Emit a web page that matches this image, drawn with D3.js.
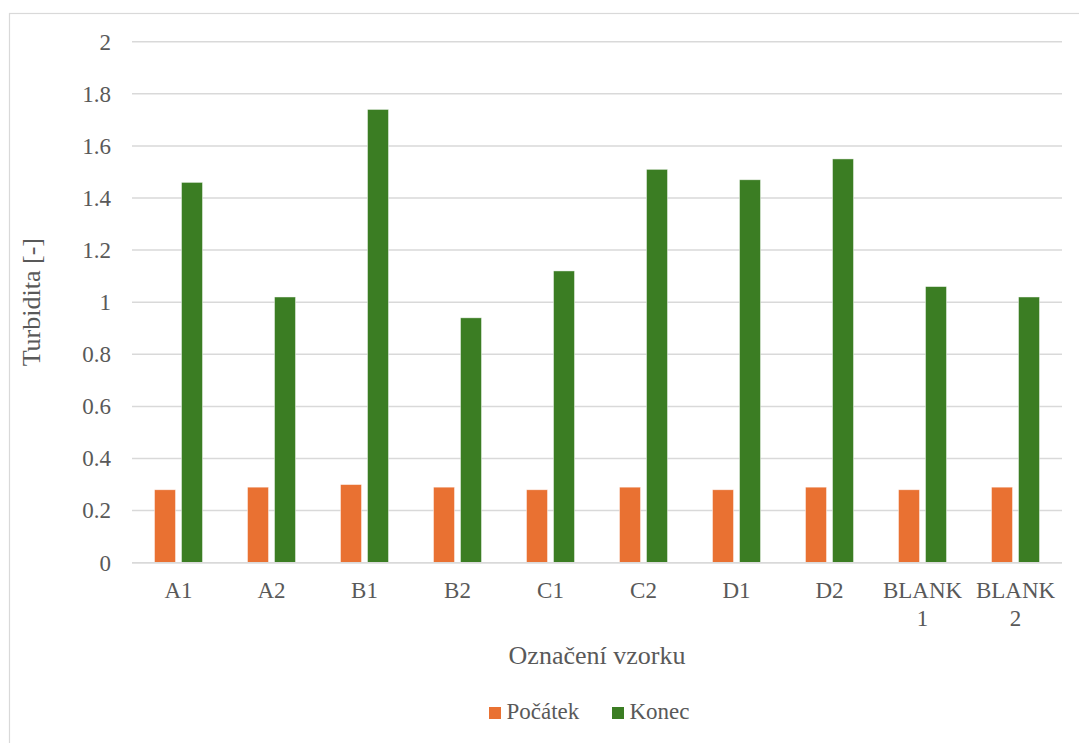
<!DOCTYPE html>
<html><head><meta charset="utf-8">
<script src="https://cdn.jsdelivr.net/npm/d3@7"></script>
<style>html,body{margin:0;padding:0;background:#fff;}svg{display:block;} svg text{font-family:"Liberation Serif","Times New Roman",serif !important;}</style>
</head><body>
<script>
const categories = ["A1","A2","B1","B2","C1","C2","D1","D2","BLANK 1","BLANK 2"];
const pocatek = [0.28,0.29,0.30,0.29,0.28,0.29,0.28,0.29,0.28,0.29];
const konec = [1.46,1.02,1.74,0.94,1.12,1.51,1.47,1.55,1.06,1.02];
const seriesNames = ["Počátek","Konec"];
const seriesColors = ["#E97132","#3B7D23"];
const yTicks = [0,0.2,0.4,0.6,0.8,1,1.2,1.4,1.6,1.8,2];

const W=1079,H=743;
const svg=d3.select("body").append("svg").attr("width",W).attr("height",H);
const font="Liberation Serif";
const txt="#595959";

svg.append("rect").attr("x",9.5).attr("y",13.5).attr("width",1100).attr("height",800)
  .attr("fill","#fff").attr("stroke","#d9d9d9").attr("stroke-width",1.2);

const pL=132,pR=1062,pT=41.7,pB=562.7;
const x=d3.scaleBand().domain(categories).range([pL,pR]).paddingInner(45/93).paddingOuter(45/93/2);
const xs=d3.scaleBand().domain(seriesNames).range([0,x.bandwidth()]).paddingInner(6/27);
const y=d3.scaleLinear().domain([0,2]).range([pB,pT]);

// grid
svg.append("g").selectAll("line").data(yTicks).join("line")
  .attr("x1",pL).attr("x2",pR).attr("y1",d=>y(d)).attr("y2",d=>y(d))
  .attr("stroke","#d9d9d9").attr("stroke-width",1.5);

// y axis labels
const yAxis=d3.axisLeft(y).tickValues(yTicks).tickFormat(d=>String(d)).tickSize(0).tickPadding(21);
const ga=svg.append("g").attr("transform",`translate(${pL},0)`).call(yAxis);
ga.select(".domain").remove();
ga.attr("font-family",font);
ga.selectAll("text").attr("font-size",23).attr("fill",txt);

// bars
const data=categories.map((c,i)=>({c,vals:[pocatek[i],konec[i]]}));
const groups=svg.append("g").selectAll("g").data(data).join("g")
  .attr("transform",d=>`translate(${x(d.c)},0)`);
groups.selectAll("rect").data(d=>d.vals.map((v,j)=>({v,s:seriesNames[j],col:seriesColors[j]}))).join("rect")
  .attr("x",d=>xs(d.s)).attr("width",xs.bandwidth())
  .attr("y",d=>y(d.v)).attr("height",d=>y(0)-y(d.v))
  .attr("fill",d=>d.col).attr("stroke","#fff").attr("stroke-opacity",0.6).attr("stroke-width",0.75);

// baseline
svg.append("line").attr("x1",pL).attr("x2",pR).attr("y1",y(0)).attr("y2",y(0))
  .attr("stroke","#d9d9d9").attr("stroke-width",1.5);

// x labels
const xl=svg.append("g").selectAll("text").data(categories).join("text")
  .attr("x",d=>x(d)+x.bandwidth()/2).attr("y",598)
  .attr("text-anchor","middle").attr("font-size",23).attr("fill",txt);
xl.each(function(d){
  const parts=d.split(" ");
  const t=d3.select(this);
  parts.forEach((p,k)=>t.append("tspan").attr("x",x(d)+x.bandwidth()/2).attr("dy",k?27.5:0).text(p));
});

// axis titles
svg.append("text").attr("x",(pL+pR)/2).attr("y",664).attr("text-anchor","middle")
  .attr("font-size",26).attr("fill",txt).text("Označení vzorku");
svg.append("text").attr("transform",`translate(40,${(pT+pB)/2}) rotate(-90)`).attr("text-anchor","middle")
  .attr("font-size",26).attr("fill",txt).text("Turbidita [-]");

// legend
const leg=[{n:"Počátek",c:seriesColors[0],x:489},{n:"Konec",c:seriesColors[1],x:612}];
const lg=svg.append("g").selectAll("g").data(leg).join("g");
lg.append("rect").attr("x",d=>d.x).attr("y",707).attr("width",12).attr("height",12).attr("fill",d=>d.c);
lg.append("text").attr("x",d=>d.x+17.5).attr("y",719).attr("font-size",23).attr("fill",txt).text(d=>d.n);
</script>
</body></html>
